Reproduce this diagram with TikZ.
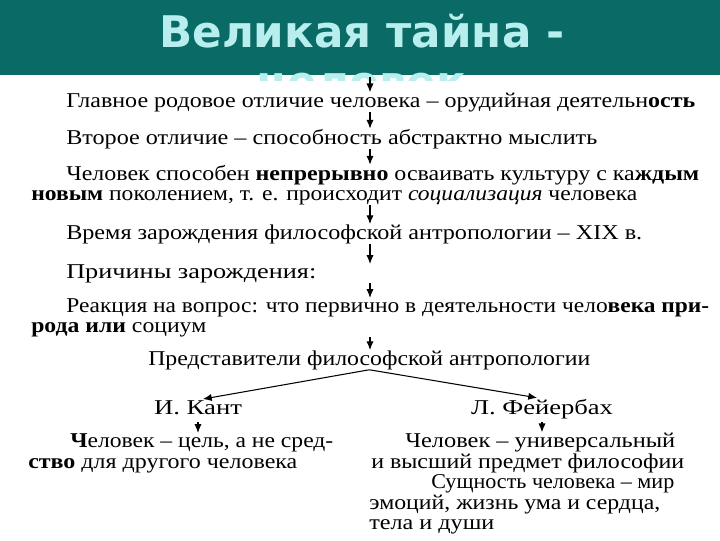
\documentclass[tikz,border=0pt]{standalone}
\usepackage{fontspec}
\setmainfont{Liberation Serif}
\newfontfamily\titlefont{DejaVu Sans}
\usetikzlibrary{arrows.meta}

\newlength\px
\setlength\px{0.025cm}
% one printed line, stretched to its width in px
\newcommand\fitline[2]{\resizebox{#1\px}{\height}{#2}}

\definecolor{barteal}{HTML}{0A6B66}
\definecolor{titlecyan}{HTML}{B8EEEE}

\tikzset{
  txt/.style={anchor=base west, inner sep=0pt,
    font=\fontsize{15}{18}\selectfont},
  txtc/.style={txt, anchor=base},
  ttl/.style={anchor=base, text=titlecyan,
    font=\titlefont\bfseries\fontsize{31}{37}\selectfont},
  arr/.style={-{Latex[length=2.2mm,width=1.8mm]}, line width=0.75pt},
}

\begin{document}
\begin{tikzpicture}[x=0.025cm, y=-0.025cm]
  \useasboundingbox (0,0) rectangle (720,540);
  \fill[barteal] (0,0) rectangle (720,75);

  % title, its second line is cut off
  \begin{scope}
    \clip (0,0) rectangle (720,80);
    \node[ttl] (title1) at (362,47) {Великая тайна -};
    \node[ttl] (title2) at (362,97) {человек};
  \end{scope}

  \coordinate (ax) at (370,77);

  \node[txt] (l1) at (66,107) {\fitline{629}{Главное родовое отличие человека – орудийная деятельн\textbf{ость}}};
  \node[txt] (l2) at (66,144) {\fitline{531}{Второе отличие – способность абстрактно мыслить}};
  \node[txt] (l3a) at (66,180) {\fitline{633}{Человек способен \textbf{непрерывно} осваивать культуру с ка\textbf{ждым}}};
  \node[txt] (l3b) at (31,200) {\fitline{606}{\textbf{новым} поколением, т. е. происходит \textit{социализация} человека}};
  \node[txt] (l4) at (66,239) {\fitline{576}{Время зарождения философской антропологии – XIX в.}};
  \node[txt] (l5) at (66,278) {\fitline{250}{Причины зарождения:}};
  \node[txt] (l6a) at (66,312) {\fitline{643}{Реакция на вопрос: что первично в деятельности чело\textbf{века при-}}};
  \node[txt] (l6b) at (31,332) {\fitline{175}{\textbf{рода или} социум}};
  \node[txt] (pred) at (148,365) {\fitline{442}{Представители философской антропологии}};

  \node[txtc] (kant) at (198,414) {\fitline{88}{И. Кант}};
  \node[txtc] (feu) at (542,414) {\fitline{142}{Л. Фейербах}};

  \node[txt] (b1) at (70,447) {\fitline{263}{\textbf{Ч}еловек – цель, а не сред-}};
  \node[txt] (b2) at (28,468) {\fitline{269}{\textbf{ство} для другого человека}};

  \node[txt] (r1) at (405,447) {\fitline{270}{Человек – универсальный}};
  \node[txt] (r2) at (371,468) {\fitline{313}{и высший предмет философии}};
  \node[txt] (r3) at (431,488) {\fitline{243}{Сущность человека – мир}};
  \node[txt] (r4) at (369,509) {\fitline{291}{эмоций, жизнь ума и сердца,}};
  \node[txt] (r5) at (369,529) {\fitline{125}{тела и души}};

  \draw[arr] (ax) -- (ax |- l1.north);
  \draw[arr] (l1.south -| ax) -- (l2.north -| ax);
  \draw[arr] (l2.south -| ax) -- (l3a.north -| ax);
  \draw[arr] (l3b.south -| ax) -- (l4.north -| ax);
  \draw[arr] (l4.south -| ax) -- (l5.north -| ax);
  \draw[arr] (l5.south -| ax) -- (l6a.north -| ax);
  \draw[arr] (l6b.south -| ax) -- (pred.north -| ax);

  \draw[arr, shorten >=5\px] (pred.south) -- (kant.north);
  \draw[arr, shorten >=5\px] (pred.south) -- (feu.north);
  \draw[arr] ([yshift=-8\px]kant.base) -- (kant.base |- b1.north);
  \draw[arr] ([yshift=-8\px]feu.base) -- (feu.base |- r1.north);
\end{tikzpicture}
\end{document}
